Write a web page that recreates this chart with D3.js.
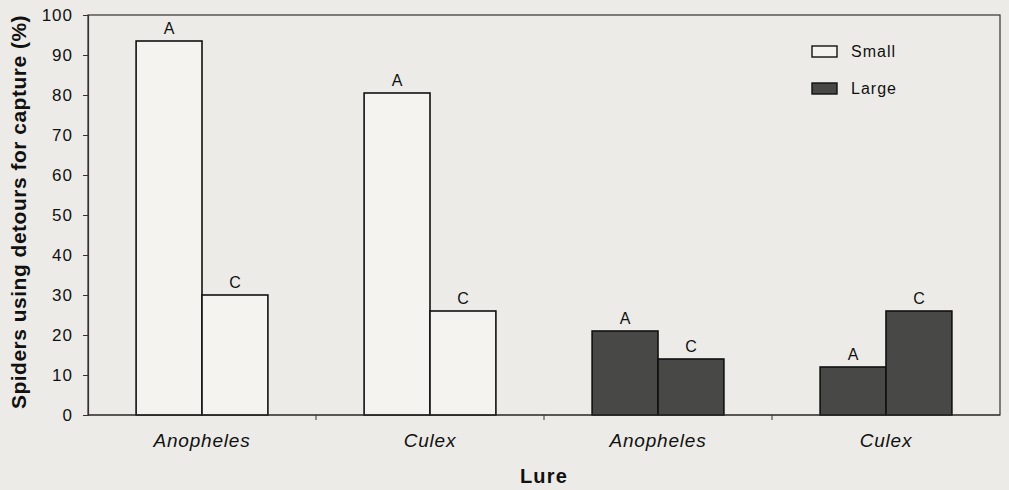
<!DOCTYPE html>
<html>
<head>
<meta charset="utf-8">
<script src="https://cdn.jsdelivr.net/npm/d3@7"></script>
<style>
  body { margin: 0; background: #ecebe7; }
  svg { display: block; font-family: "Liberation Sans", Arial, sans-serif; }
</style>
</head>
<body>
<svg id="chart" width="1009" height="490"></svg>
<script>
'use strict';

// groups along the x axis (lure, by spider size)
var groups = ['Anopheles|Small', 'Culex|Small', 'Anopheles|Large', 'Culex|Large'];
var groupLabels = ['Anopheles', 'Culex', 'Anopheles', 'Culex'];
var sizes = ['Small', 'Small', 'Large', 'Large'];
var letters = ['A', 'C'];
var valuesA = [93.5, 80.5, 21, 12];
var valuesC = [30, 26, 14, 26];
var yTicks = [0, 10, 20, 30, 40, 50, 60, 70, 80, 90, 100];

var fills = { Small: '#f4f3ef', Large: '#484846' };

var margin = { top: 15, right: 9, bottom: 75, left: 88 };
var width = 1009 - margin.left - margin.right;
var height = 490 - margin.top - margin.bottom;

var svg = d3.select('#chart');
var g = svg.append('g')
  .attr('transform', 'translate(' + margin.left + ',' + margin.top + ')');

var x0 = d3.scaleBand().domain(groups).range([0, width]).padding(0);
var x1 = d3.scaleBand().domain(letters).range([0, x0.bandwidth()])
  .paddingInner(0).paddingOuter(0.73);
var y = d3.scaleLinear().domain([0, 100]).range([height, 0]);

var data = [];
groups.forEach(function (grp, i) {
  data.push({ group: grp, letter: 'A', value: valuesA[i], size: sizes[i] });
  data.push({ group: grp, letter: 'C', value: valuesC[i], size: sizes[i] });
});

// plot frame
g.append('rect')
  .attr('width', width)
  .attr('height', height)
  .attr('fill', 'none')
  .attr('stroke', '#333')
  .attr('stroke-width', 1.2);

// bars
g.selectAll('rect.bar')
  .data(data)
  .enter()
  .append('rect')
  .attr('class', 'bar')
  .attr('x', function (d) { return x0(d.group) + x1(d.letter); })
  .attr('y', function (d) { return y(d.value); })
  .attr('width', x1.bandwidth())
  .attr('height', function (d) { return height - y(d.value); })
  .attr('fill', function (d) { return fills[d.size]; })
  .attr('stroke', '#111')
  .attr('stroke-width', 1.6);

// letters above bars
g.selectAll('text.letter')
  .data(data)
  .enter()
  .append('text')
  .attr('class', 'letter')
  .attr('x', function (d) { return x0(d.group) + x1(d.letter) + x1.bandwidth() / 2; })
  .attr('y', function (d) { return y(d.value) - 7; })
  .attr('text-anchor', 'middle')
  .attr('font-size', 16)
  .attr('fill', '#111')
  .text(function (d) { return d.letter; });

// y axis
var yAxis = g.append('g')
  .call(d3.axisLeft(y).tickValues(yTicks).tickSize(5).tickPadding(10));
yAxis.select('.domain').attr('stroke', '#333').attr('stroke-width', 1.2);
yAxis.selectAll('.tick line').attr('stroke', '#333');
yAxis.selectAll('.tick text')
  .attr('font-size', 17)
  .attr('letter-spacing', 1)
  .attr('font-family', '"Liberation Sans", Arial, sans-serif')
  .attr('fill', '#111');

// x axis: ticks between groups, labels centered on groups
var xAxis = g.append('g')
  .attr('transform', 'translate(0,' + height + ')');
xAxis.append('line')
  .attr('x1', 0).attr('x2', width)
  .attr('stroke', '#333').attr('stroke-width', 1.2);
xAxis.selectAll('line.tick')
  .data(groups.slice(1))
  .enter()
  .append('line')
  .attr('class', 'tick')
  .attr('x1', function (d) { return x0(d); })
  .attr('x2', function (d) { return x0(d); })
  .attr('y1', 0).attr('y2', 5)
  .attr('stroke', '#333');
xAxis.selectAll('text')
  .data(groups)
  .enter()
  .append('text')
  .attr('x', function (d) { return x0(d) + x0.bandwidth() / 2; })
  .attr('y', 32)
  .attr('text-anchor', 'middle')
  .attr('font-size', 19)
  .attr('letter-spacing', 0.8)
  .attr('font-style', 'italic')
  .attr('fill', '#111')
  .text(function (d, i) { return groupLabels[i]; });

// axis titles
svg.append('text')
  .attr('x', margin.left + width / 2)
  .attr('y', 483)
  .attr('text-anchor', 'middle')
  .attr('font-size', 20)
  .attr('letter-spacing', 1.2)
  .attr('font-weight', 'bold')
  .attr('fill', '#111')
  .text('Lure');

svg.append('text')
  .attr('transform', 'translate(26,212) rotate(-90)')
  .attr('text-anchor', 'middle')
  .attr('font-size', 21)
  .attr('letter-spacing', 0.5)
  .attr('font-weight', 'bold')
  .attr('fill', '#111')
  .text('Spiders using detours for capture (%)');

// legend
var legend = svg.append('g').attr('transform', 'translate(812,46)');
var legendItems = legend.selectAll('g')
  .data(['Small', 'Large'])
  .enter()
  .append('g')
  .attr('transform', function (d, i) { return 'translate(0,' + (i * 37) + ')'; });
legendItems.append('rect')
  .attr('width', 25).attr('height', 11)
  .attr('fill', function (d) { return fills[d]; })
  .attr('stroke', '#111')
  .attr('stroke-width', 1.4);
legendItems.append('text')
  .attr('x', 39).attr('y', 11)
  .attr('font-size', 16)
  .attr('letter-spacing', 1)
  .attr('fill', '#111')
  .text(function (d) { return d; });
</script>
</body>
</html>
